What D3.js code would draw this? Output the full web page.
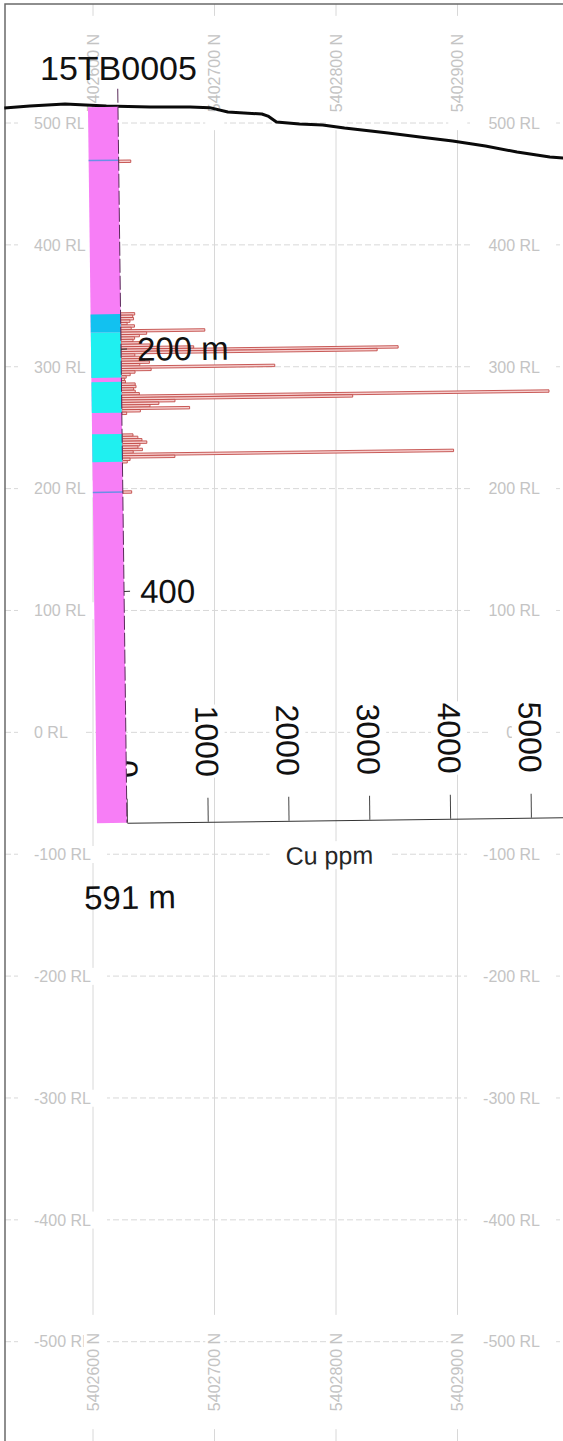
<!DOCTYPE html>
<html><head><meta charset="utf-8">
<script src="https://cdn.jsdelivr.net/npm/d3@7"></script>
<style>html,body{margin:0;padding:0;background:#fff}svg{display:block}</style>
</head><body><svg id="c" width="563" height="1441"></svg>
<script>
// ---------------- data ----------------
const holeId = "15TB0005";
const rlTicks = [500, 400, 300, 200, 100, 0, -100, -200, -300, -400, -500];
const northTicks = [5402600, 5402700, 5402800, 5402900];
const cuTicks = [0, 1000, 2000, 3000, 4000, 5000];
const depthTicks = [200, 400];
const depthTickLabels = ["200 m", "400"];
const cuAxisTitle = "Cu ppm";

const topoNorth = [5402527, 5402548, 5402577, 5402611, 5402647, 5402680, 5402696, 5402711, 5402739, 5402744,
                   5402751, 5402770, 5402789, 5402807, 5402843, 5402869, 5402896, 5402923, 5402949, 5402976, 5402988];
const topoRL    = [512.3, 513.9, 515.6, 513.9, 513.1, 513.1, 512.6, 509.0, 507.4, 505.7,
                   500.8, 499.2, 498.4, 495.9, 491.8, 488.5, 485.2, 481.1, 476.2, 472.1, 471.3];

const collarNorth = 5402608.2, collarRL = 513.1;
const endNorth = 5402615.6, endRL = -74.4;
const holeLength = 591;

const lithFrom = [0, 171, 186, 223.5, 227, 252.5, 270, 293];
const lithTo   = [171, 186, 223.5, 227, 252.5, 270, 293, 591];
const lithCode = ["P", "B", "C", "P", "C", "P", "C", "P"];

const markerDepths = [44, 318];

const cuFrom = [44, 170, 172, 174, 176, 178, 180, 182, 184, 186, 188, 190, 192, 194, 196, 198,
                200, 202, 204, 206, 208, 210, 212, 214, 216, 218, 220, 222, 224, 226, 228, 230,
                232, 234, 236, 238, 240, 242, 244, 246, 248, 250, 252,
                270, 272, 274, 276, 278, 280, 282, 284, 286, 288, 290, 292, 317];
const cuPpm  = [150, 175, 150, 160, 115, 80, 170, 130, 1040, 320, 230, 170, 150, 240, 360, 900,
                3430, 3170, 170, 230, 290, 350, 230, 1900, 370, 170, 110, 60, 40, 50, 170, 180,
                150, 170, 220, 5290, 2860, 660, 460, 350, 840, 230, 60,
                135, 195, 245, 305, 220, 195, 250, 135, 4100, 650, 95, 60, 110];
const cuInterval = 2;

// ---------------- styles ----------------
const FONT = "'Liberation Sans', Arial, Helvetica, sans-serif";
const lithColors = {P: "#f77ef6", B: "#12c1f0", C: "#1ff0f0"};
const gridColor = "#d8d8d8", gridLabelColor = "#c4c4c4";

const svg = d3.select("#c");
const W = 563, H = 1441;

const x = d3.scaleLinear().domain([5402600, 5402900]).range([93, 457.5]);
const y = d3.scaleLinear().domain([500, -500]).range([123, 1341.7]);

// ---------------- grid ----------------
const grid = svg.append("g");
grid.selectAll("line.h").data(rlTicks).join("line").attr("class", "h")
  .attr("x1", 5).attr("x2", W).attr("y1", d => y(d)).attr("y2", d => y(d))
  .attr("stroke", gridColor).attr("stroke-width", 1).attr("stroke-dasharray", "6,3");
grid.selectAll("line.v").data(northTicks).join("line").attr("class", "v")
  .attr("x1", d => x(d)).attr("x2", d => x(d)).attr("y1", 4).attr("y2", H)
  .attr("stroke", gridColor).attr("stroke-width", 1);

function knockText(sel, padX, padY) {
  sel.each(function () {
    const b = this.getBBox();
    d3.select(this.parentNode).insert("rect", () => this)
      .attr("x", b.x - padX).attr("y", b.y - padY)
      .attr("width", b.width + 2 * padX).attr("height", b.height + 2 * padY)
      .attr("fill", "#fff")
      .attr("transform", d3.select(this).attr("transform"));
  });
}

const rlLab = svg.append("g").attr("font-family", FONT).attr("font-size", 16).attr("fill", gridLabelColor);
const lLeft = rlLab.selectAll("text.l").data(rlTicks).join("text").attr("class", "l")
  .attr("x", 34).attr("y", d => y(d)).attr("dy", "0.36em").attr("text-anchor", "start")
  .text(d => d + " RL");
const lRight = rlLab.selectAll("text.r").data(rlTicks).join("text").attr("class", "r")
  .attr("x", 540).attr("y", d => y(d)).attr("dy", "0.36em").attr("text-anchor", "end")
  .text(d => d + " RL");
knockText(lLeft, 16, 0);
knockText(lRight, 16, 0);

const nLab = svg.append("g").attr("font-family", FONT).attr("font-size", 16).attr("fill", gridLabelColor);
[73, 1372].forEach((cy, k) => {
  const t = nLab.selectAll("text.n" + k).data(northTicks).join("text").attr("class", "n" + k)
    .attr("transform", d => `translate(${x(d)},${cy}) rotate(-90)`)
    .attr("text-anchor", "middle").attr("dy", "0.36em")
    .text(d => d + " N");
  knockText(t, 18, 1);
});

// frame
svg.append("path").attr("d", `M5,${H} L5,4 L${W},4`).attr("fill", "none")
  .attr("stroke", "#6a6a6a").attr("stroke-width", 1.5);

// ---------------- topography ----------------
const topo = topoNorth.map((n, i) => [n, topoRL[i]]);
svg.append("path").datum(topo)
  .attr("d", d3.line().x(d => x(d[0])).y(d => y(d[1])))
  .attr("fill", "none").attr("stroke", "#0a0a0a").attr("stroke-width", 3).attr("stroke-linejoin", "round");

// ---------------- drill hole frame ----------------
const p0 = [x(collarNorth), y(collarRL)];
const p1 = [x(endNorth), y(endRL)];
const len = Math.hypot(p1[0] - p0[0], p1[1] - p0[1]);
const ang = Math.atan2(p1[0] - p0[0], p1[1] - p0[1]) * 180 / Math.PI;
const half = 15;

const depth = d3.scaleLinear().domain([0, holeLength]).range([0, len]);
const cuPxPer1000 = 80.8;
const cuMax = 5600;
const cu = d3.scaleLinear().domain([0, cuMax]).range([half, half + cuPxPer1000 * cuMax / 1000]);

const hg = svg.append("g").attr("transform", `translate(${p0[0]},${p0[1]}) rotate(${-ang})`);

// Cu axis
const ax = hg.append("g").attr("transform", `translate(0,${len})`)
  .call(d3.axisTop(cu).tickValues(cuTicks).tickSize(24).tickSizeOuter(0).tickFormat(d3.format("d")));
ax.attr("font-family", FONT).attr("font-size", 32);
ax.select(".domain").attr("stroke", "#333").attr("stroke-width", 1);
ax.selectAll(".tick line").attr("stroke", "#444").attr("stroke-width", 1);
const tt = ax.selectAll(".tick text")
  .attr("fill", "#111").attr("x", 0).attr("y", 0).attr("dy", "0.36em")
  .attr("text-anchor", "end")
  .attr("transform", "translate(0,-45) rotate(90)");
knockText(tt, 1, 0);

const ct = hg.append("text").attr("x", cu(2500)).attr("y", len + 44)
  .attr("text-anchor", "middle").attr("font-family", FONT).attr("font-size", 25).attr("fill", "#262626")
  .text(cuAxisTitle);
knockText(ct, 16, 0);

// Cu bars
const bars = cuFrom.map((f, i) => ({from: f, to: f + cuInterval, v: cuPpm[i]}));
hg.append("g").selectAll("rect").data(bars).join("rect")
  .attr("x", cu(0)).attr("y", d => depth(d.from))
  .attr("width", d => cu(d.v) - cu(0)).attr("height", d => depth(d.to) - depth(d.from))
  .attr("fill", "#f6d0d0").attr("stroke", "#c24a47").attr("stroke-width", 0.9);

// lithology column: base (pink) then intervals on top
hg.append("rect").attr("x", -half).attr("width", 2 * half)
  .attr("y", depth(0)).attr("height", depth(holeLength) - depth(0))
  .attr("fill", lithColors.P);
const lith = lithFrom.map((f, i) => ({from: f, to: lithTo[i], c: lithCode[i]}));
hg.append("g").selectAll("rect").data(lith.filter(d => d.c !== "P")).join("rect")
  .attr("x", -half).attr("width", 2 * half)
  .attr("y", d => depth(d.from)).attr("height", d => depth(d.to) - depth(d.from))
  .attr("fill", d => lithColors[d.c]);

// markers
hg.append("g").selectAll("line").data(markerDepths).join("line")
  .attr("x1", -half).attr("x2", half).attr("y1", d => depth(d)).attr("y2", d => depth(d))
  .attr("stroke", "#6b8fe6").attr("stroke-width", 1.5);

// zero line / trace
hg.append("line").attr("x1", half).attr("x2", half)
  .attr("y1", depth(-15)).attr("y2", depth(holeLength))
  .attr("stroke", "#5a2b5a").attr("stroke-width", 1).attr("stroke-dasharray", "14,3");

// depth ticks + labels
hg.append("g").selectAll("line").data(depthTicks).join("line")
  .attr("x1", half).attr("x2", half + 6).attr("y1", d => depth(d)).attr("y2", d => depth(d))
  .attr("stroke", "#333").attr("stroke-width", 1);
hg.append("g").attr("font-family", FONT).attr("font-size", 33).attr("fill", "#111")
  .selectAll("text").data(depthTicks).join("text")
  .attr("x", half + 16).attr("y", d => depth(d)).attr("dy", "0.36em")
  .text((d, i) => depthTickLabels[i]);

hg.append("text").attr("x", half + 2).attr("y", depth(holeLength) + 86)
  .attr("text-anchor", "middle").attr("font-family", FONT).attr("font-size", 33).attr("fill", "#111")
  .text(holeLength + " m");

// title
svg.append("text").attr("x", p0[0] + half + 0.5).attr("y", p0[1] - 27)
  .attr("text-anchor", "middle").attr("font-family", FONT).attr("font-size", 34).attr("fill", "#111")
  .text(holeId);
</script>
</body></html>
